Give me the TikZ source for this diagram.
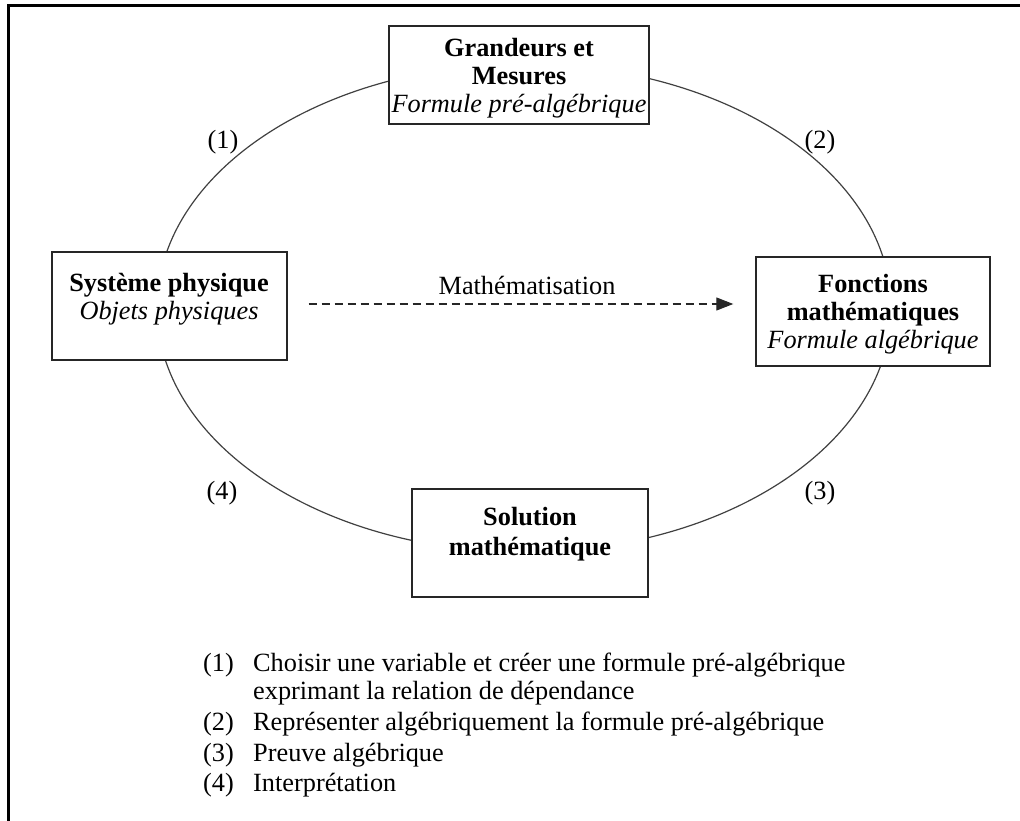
\documentclass[tikz,border=0pt]{standalone}
\usepackage{fontspec}
\setmainfont{Liberation Serif}
\usetikzlibrary{arrows.meta}
\begin{document}
\begin{tikzpicture}[x=1pt,y=-1pt,
  box/.style={draw=black!85,line width=1.4pt,fill=white,inner sep=0pt},
  txt/.style={font=\fontsize{26.3}{30}\selectfont,inner sep=0pt,anchor=base},
  lgd/.style={font=\fontsize{26.3}{30}\selectfont,inner sep=0pt,anchor=base west},
  cycle/.style={draw=black!75,line width=1.2pt},
  frame/.style={line width=3pt,line cap=rect}]
\useasboundingbox (0,0) rectangle (1020,821);
% frame (top and left only)
\draw[frame] (8,821) -- (8,6) -- (1020,6);
% cycle ellipse
\draw[cycle] (524,308) ellipse [x radius=367, y radius=244];
% boxes
\node[box,minimum width=260pt,minimum height=98pt] (gm) at (519,75) {};
\node[box,minimum width=235pt,minimum height=108pt] (sp) at (169.5,306) {};
\node[box,minimum width=234pt,minimum height=109pt] (fm) at (873,311.5) {};
\node[box,minimum width=236pt,minimum height=108pt] (sm) at (530,543) {};
% box texts
\node[txt] (gm1) at (519,57) {\bfseries Grandeurs et};
\node[txt] (gm2) at (519,85) {\bfseries Mesures};
\node[txt] (gm3) at (519,113) {\itshape Formule pré-algébrique};
\node[txt] (sp1) at (169,291) {\bfseries Système physique};
\node[txt] (sp2) at (169,319) {\itshape Objets physiques};
\node[txt] (fm1) at (873,292) {\bfseries Fonctions};
\node[txt] (fm2) at (873,320) {\bfseries mathématiques};
\node[txt] (fm3) at (873,348) {\itshape Formule algébrique};
\node[txt] (sm1) at (530,525) {\bfseries Solution};
\node[txt] (sm2) at (530,555) {\bfseries mathématique};
% mathematisation arrow
\node[txt] (mt) at (527,294) {Mathématisation};
\draw[draw=black!85,line width=1.2pt,dash pattern=on 8pt off 5pt,
  -{Triangle[length=17pt,width=13pt]},shorten <=21pt,shorten >=22pt]
  ([yshift=2pt]sp.east) -- ([yshift=2pt]sp.east -| fm.west);
% cycle labels
\node[txt] (l1) at (223,149) {(1)};
\node[txt] (l2) at (820,149) {(2)};
\node[txt] (l3) at (820,499) {(3)};
\node[txt] (l4) at (222,499) {(4)};
% legend
\node[lgd] (n1) at (203,671) {(1)};
\node[lgd] (t1) at (253,671) {Choisir une variable et créer une formule pré-algébrique};
\node[lgd] (t1b) at (253,699) {exprimant la relation de dépendance};
\node[lgd] (n2) at (203,730) {(2)};
\node[lgd] (t2) at (253,730) {Représenter algébriquement la formule pré-algébrique};
\node[lgd] (n3) at (203,761) {(3)};
\node[lgd] (t3) at (253,761) {Preuve algébrique};
\node[lgd] (n4) at (203,791) {(4)};
\node[lgd] (t4) at (253,791) {Interprétation};
\end{tikzpicture}
\end{document}
